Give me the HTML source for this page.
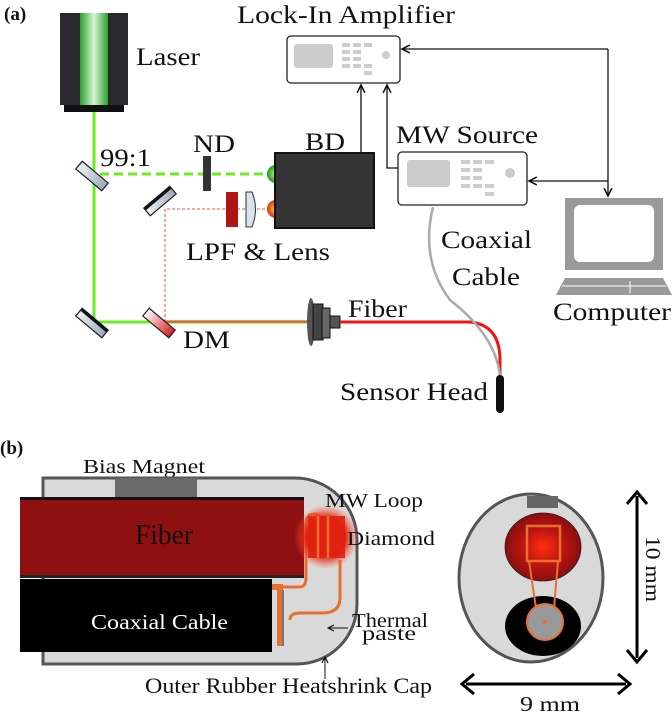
<!DOCTYPE html>
<html><head><meta charset="utf-8"><style>
body{margin:0;background:#fff}
svg text{font-family:"Liberation Serif",serif;fill:#111}
</style></head><body>
<svg width="672" height="714" viewBox="0 0 672 714" xmlns="http://www.w3.org/2000/svg">
<defs>
<linearGradient id="lg" x1="0" x2="1"><stop offset="0" stop-color="#2aa02a"/><stop offset="0.5" stop-color="#d8f5d8"/><stop offset="1" stop-color="#2aa02a"/></linearGradient>
<linearGradient id="mir" x1="0" x2="1"><stop offset="0" stop-color="#eef2f5"/><stop offset="1" stop-color="#9aaab8"/></linearGradient>
<linearGradient id="dm" x1="0" x2="1"><stop offset="0" stop-color="#fff"/><stop offset="1" stop-color="#d42020"/></linearGradient>
<radialGradient id="gb"><stop offset="0" stop-color="#ccff66"/><stop offset="1" stop-color="#1a9a2a"/></radialGradient>
<radialGradient id="ob"><stop offset="0" stop-color="#ffdd33"/><stop offset="1" stop-color="#d83010"/></radialGradient>
<radialGradient id="dg"><stop offset="0" stop-color="#ff3a10"/><stop offset="0.6" stop-color="#e02010"/><stop offset="1" stop-color="#ff5030" stop-opacity="0"/></radialGradient>
<radialGradient id="rc"><stop offset="0" stop-color="#ff3010"/><stop offset="0.5" stop-color="#c01510"/><stop offset="1" stop-color="#8a0e0e"/></radialGradient>
<marker id="ah" markerWidth="8" markerHeight="8" refX="7" refY="4" orient="auto"><path d="M1,1 L7,4 L1,7" fill="none" stroke="#111" stroke-width="1.2"/></marker>
</defs>

<text x="4" y="20" font-size="19" font-weight="bold">(a)</text>
<rect x="60" y="13" width="68" height="92" fill="#2a2a2e"/>
<rect x="80" y="13" width="28" height="92" fill="url(#lg)"/>
<rect x="64" y="105" width="60" height="7" fill="#111"/>
<text x="136" y="65" font-size="25" textLength="64" lengthAdjust="spacingAndGlyphs">Laser</text>

<path d="M94,112 V322 H157" stroke="#66ee22" stroke-width="3" fill="none"/>
<path d="M157,322 H312" stroke="#99aa22" stroke-width="3" fill="none"/>
<path d="M157,321 H312" stroke="#ee2020" stroke-width="1" fill="none"/>
<path d="M100,174 H270" stroke="#66ee22" stroke-width="3" stroke-dasharray="9,5" fill="none"/>
<path d="M165,322 V209 H270" stroke="#ee5040" stroke-width="1" stroke-dasharray="3,2" fill="none"/>

<g transform="translate(92,176) rotate(40)"><rect x="-17" y="-5" width="34" height="10" fill="url(#mir)" stroke="#222" stroke-width="1.2"/></g>
<g transform="translate(92,323) rotate(40)"><rect x="-17" y="-5" width="34" height="10" fill="url(#mir)" stroke="#222" stroke-width="1.2"/><rect x="-17" y="-5" width="34" height="3" fill="#111"/></g>
<g transform="translate(160,201) rotate(-40)"><rect x="-17" y="-5" width="34" height="10" fill="url(#mir)" stroke="#222" stroke-width="1.2"/><rect x="-17" y="-5" width="34" height="3" fill="#111"/></g>
<g transform="translate(159,323) rotate(40)"><rect x="-17" y="-5" width="34" height="10" fill="url(#dm)" stroke="#222" stroke-width="1.2"/></g>

<rect x="203" y="156" width="8" height="35" fill="#333"/>
<text x="193" y="152" font-size="25" textLength="42" lengthAdjust="spacingAndGlyphs">ND</text>
<text x="100" y="166" font-size="25" textLength="51" lengthAdjust="spacingAndGlyphs">99:1</text>
<rect x="226" y="192" width="12" height="35" fill="#b01515"/>
<path d="M246,192 H252 Q259,209 252,227 H246 Z" fill="#d8e2ea" stroke="#333"/>
<circle cx="276" cy="174" r="9" fill="url(#gb)"/>
<circle cx="276" cy="209" r="9" fill="url(#ob)"/>
<rect x="275" y="153" width="99" height="75" fill="#353535" stroke="#111" stroke-width="2"/>
<text x="305" y="150" font-size="25" textLength="40" lengthAdjust="spacingAndGlyphs">BD</text>
<text x="186" y="260" font-size="25" textLength="144" lengthAdjust="spacingAndGlyphs">LPF &amp; Lens</text>
<text x="183" y="348" font-size="25" textLength="47" lengthAdjust="spacingAndGlyphs">DM</text>

<ellipse cx="311" cy="322" rx="4" ry="24" fill="#555"/>
<rect x="313" y="304" width="10" height="36" fill="#444" stroke="#111"/>
<rect x="322" y="308" width="8" height="30" fill="#666" stroke="#111"/>
<rect x="330" y="316" width="10" height="12" fill="#555" stroke="#111"/>
<path d="M340,322 H470 Q500,325 500,360 V375" stroke="#ee1515" stroke-width="3" fill="none"/>
<path d="M433,207 Q420,260 450,300 Q495,335 500,375" stroke="#aaa" stroke-width="2.5" fill="none"/>
<rect x="496" y="375" width="8" height="38" rx="4" fill="#111"/>
<text x="348" y="317" font-size="25" textLength="59" lengthAdjust="spacingAndGlyphs">Fiber</text>
<text x="340" y="400" font-size="25" textLength="148" lengthAdjust="spacingAndGlyphs">Sensor Head</text>

<g>
<rect x="287" y="36" width="113" height="47" rx="4" fill="#fff" stroke="#222" stroke-width="1.3"/>
<rect x="294" y="44" width="39" height="24" rx="3" fill="#ccc"/>
<g fill="#ccc"><rect x="342" y="43" width="8" height="4"/><rect x="353" y="43" width="8" height="4"/><rect x="364" y="43" width="8" height="4"/><rect x="342" y="50" width="8" height="4"/><rect x="353" y="50" width="8" height="4"/><rect x="342" y="57" width="8" height="4"/><rect x="353" y="57" width="8" height="4"/><rect x="342" y="64" width="8" height="4"/><rect x="353" y="64" width="8" height="4"/><rect x="364" y="64" width="8" height="4"/><rect x="364" y="71" width="8" height="4"/><circle cx="386" cy="55" r="4"/></g>
</g>
<g>
<rect x="398" y="152" width="129" height="53" rx="4" fill="#fff" stroke="#222" stroke-width="1.3"/>
<rect x="407" y="160" width="43" height="27" rx="3" fill="#ccc"/>
<g fill="#ccc"><rect x="461" y="160" width="9" height="4"/><rect x="473" y="160" width="9" height="4"/><rect x="485" y="160" width="9" height="4"/><rect x="461" y="168" width="9" height="4"/><rect x="473" y="168" width="9" height="4"/><rect x="461" y="176" width="9" height="4"/><rect x="473" y="176" width="9" height="4"/><rect x="461" y="184" width="9" height="4"/><rect x="473" y="184" width="9" height="4"/><rect x="485" y="184" width="9" height="4"/><rect x="485" y="192" width="9" height="4"/><circle cx="510" cy="173" r="5"/></g>
</g>
<text x="237" y="23" font-size="25" textLength="218" lengthAdjust="spacingAndGlyphs">Lock-In Amplifier</text>
<text x="396" y="143" font-size="25" textLength="142" lengthAdjust="spacingAndGlyphs">MW Source</text>
<text x="441" y="248" font-size="25" textLength="91" lengthAdjust="spacingAndGlyphs">Coaxial</text>
<text x="452" y="285" font-size="25" textLength="68" lengthAdjust="spacingAndGlyphs">Cable</text>

<path d="M361,153 V85" stroke="#111" stroke-width="1.3" fill="none" marker-end="url(#ah)"/>
<path d="M398,168 H387 V85" stroke="#111" stroke-width="1.3" fill="none" marker-end="url(#ah)"/>
<path d="M608,49 H402" stroke="#111" stroke-width="1.3" fill="none" marker-end="url(#ah)"/>
<path d="M608,49 V196" stroke="#111" stroke-width="1.3" fill="none" marker-end="url(#ah)"/>
<path d="M608,181 H529" stroke="#111" stroke-width="1.3" fill="none" marker-end="url(#ah)"/>

<rect x="565" y="198" width="98" height="72" fill="#9a9a9a"/>
<rect x="574" y="205" width="80" height="57" rx="6" fill="#fff"/>
<path d="M565,278 H663 L672,295 H556 Z" fill="#9a9a9a"/>
<path d="M562,286 H666" stroke="#fff" stroke-width="1"/>
<path d="M630,281 V293" stroke="#fff" stroke-width="1"/>
<text x="553" y="320" font-size="25" textLength="118" lengthAdjust="spacingAndGlyphs">Computer</text>

<text x="0" y="454" font-size="19" font-weight="bold">(b)</text>
<text x="83" y="473" font-size="20" textLength="122" lengthAdjust="spacingAndGlyphs">Bias Magnet</text>
<path d="M43,478 H295 A62,62 0 0 1 357,540 V604 A60,60 0 0 1 297,664 H43 Z" fill="#d9d9d9" stroke="#555" stroke-width="3"/>
<rect x="115" y="478" width="82" height="21" fill="#6a6a6a"/>
<rect x="20" y="497" width="284" height="80" fill="#8e1010"/>
<rect x="20" y="497" width="284" height="3" fill="#111"/>
<rect x="20" y="575" width="284" height="3" fill="#222"/>
<rect x="20" y="579" width="252" height="73" fill="#000"/>
<text x="135" y="544" font-size="28" textLength="58" lengthAdjust="spacingAndGlyphs">Fiber</text>
<text x="91" y="629" font-size="21" textLength="137" lengthAdjust="spacingAndGlyphs" style="fill:#fff">Coaxial Cable</text>
<path d="M272,587 H300 Q306,587 306,577 V525 Q306,514 314,514 Q322,514 322,525 V555" stroke="#e67030" stroke-width="3" fill="none"/>
<path d="M272,587 H280 V646" stroke="#e67030" stroke-width="6" fill="none"/>
<path d="M283,590 V646" stroke="#777" stroke-width="2" fill="none"/>
<path d="M290,620 Q290,613 300,613 H322 Q340,613 340,598 V560" stroke="#e67030" stroke-width="3" fill="none"/>
<ellipse cx="326" cy="537" rx="32" ry="32" fill="url(#dg)"/>
<rect x="308" y="516" width="37" height="42" fill="#e02010" opacity="0.9"/>
<path d="M318,516 V558 M328,516 V558" stroke="#e67030" stroke-width="2.5"/>
<text x="325" y="507" font-size="20" textLength="98" lengthAdjust="spacingAndGlyphs">MW Loop</text>
<text x="347" y="545" font-size="20" textLength="88" lengthAdjust="spacingAndGlyphs">Diamond</text>
<text x="352" y="627" font-size="20" textLength="76" lengthAdjust="spacingAndGlyphs">Thermal</text>
<text x="362" y="640" font-size="20" textLength="54" lengthAdjust="spacingAndGlyphs">paste</text>
<path d="M348,628 H328" stroke="#111" stroke-width="1" marker-end="url(#ah)"/>
<path d="M325,679 V657" stroke="#111" stroke-width="1" marker-end="url(#ah)"/>
<text x="145" y="693" font-size="22" textLength="287" lengthAdjust="spacingAndGlyphs">Outer Rubber Heatshrink Cap</text>

<ellipse cx="531" cy="578" rx="72" ry="84" fill="#d9d9d9" stroke="#555" stroke-width="3"/>
<rect x="527" y="496" width="31" height="12" fill="#666"/>
<ellipse cx="543" cy="547" rx="38" ry="34" fill="url(#rc)" stroke="#222" stroke-width="0.8"/>
<ellipse cx="543" cy="626" rx="38" ry="30" fill="#000"/>
<ellipse cx="545" cy="622" rx="18" ry="18" fill="#999" stroke="#e67030" stroke-width="2"/>
<circle cx="545" cy="622" r="2" fill="#e67030"/>
<rect x="527" y="526" width="33" height="35" fill="none" stroke="#e67030" stroke-width="2.5"/>
<path d="M529,561 L536,608 M558,561 L554,608" stroke="#e67030" stroke-width="2"/>
<path d="M637,496 V658" stroke="#000" stroke-width="3"/>
<path d="M627,504 L637,492 L647,504 M627,650 L637,662 L647,650" stroke="#000" stroke-width="3" fill="none"/>
<path d="M466,684 H626" stroke="#000" stroke-width="3"/>
<path d="M474,674 L462,684 L474,694 M618,674 L630,684 L618,694" stroke="#000" stroke-width="3" fill="none"/>
<text x="520" y="711" font-size="21" textLength="60" lengthAdjust="spacingAndGlyphs">9 mm</text>
<text x="0" y="0" font-size="21" textLength="66" lengthAdjust="spacingAndGlyphs" transform="translate(646,536) rotate(90)">10 mm</text>
</svg>
</body></html>
